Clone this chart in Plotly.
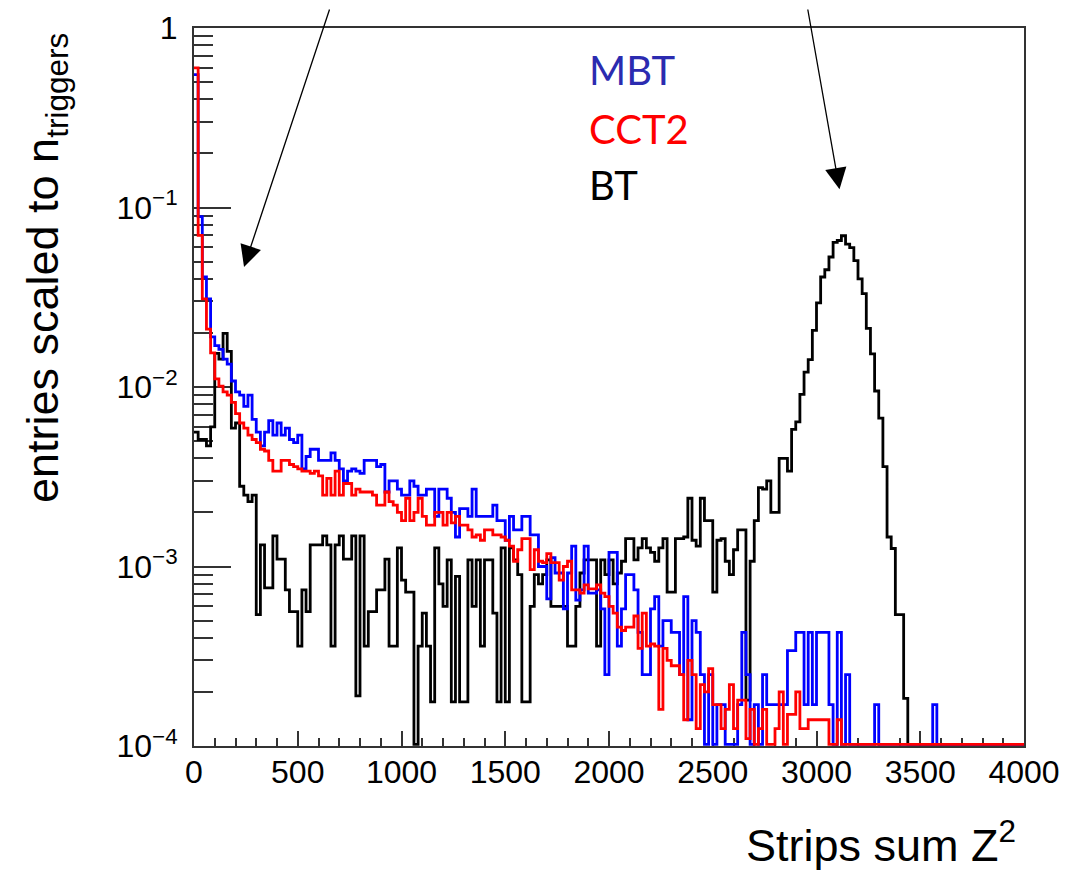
import plotly.graph_objects as go

# ---------------- data (bin width 20, range 0-4000) ----------------
bin_width = 20
x_min, x_max = 0, 4000

mbt = [
    0.55, 0.089, 0.041, 0.031, 0.019, 0.017, 0.0162, 0.0143, 0.0134, 0.0108,
    0.0094, 0.009, 0.0078, 0.009, 0.0066, 0.0056, 0.0047, 0.0056, 0.0065, 0.0054,
    0.0063, 0.0054, 0.0059, 0.0051, 0.0049, 0.0054, 0.0035, 0.0041, 0.0045, 0.0045,
    0.0039, 0.0039, 0.0039, 0.0043, 0.0039, 0.0035, 0.0030, 0.0034, 0.0035, 0.0034,
    0.0033, 0.0039, 0.0039, 0.0039, 0.0036, 0.0037, 0.0026, 0.0030, 0.0030, 0.0027,
    0.0025, 0.0025, 0.0030, 0.0028, 0.0025, 0.0025, 0.0027, 0.0027, 0.0019, 0.0027,
    0.0027, 0.0024, 0.0020, 0.00146, 0.0021, 0.0021, 0.0019, 0.0027, 0.0019, 0.0019,
    0.0019, 0.0019, 0.0022, 0.0018, 0.0018, 0.0014, 0.0019, 0.0016, 0.0016, 0.0019,
    0.0019, 0.0015, 0.0015, 0.0010, 0.0010, 0.00066, 0.00112, 0.00092, 0.00092, 0.00058,
    0.00092, 0.0013, 0.00065, 0.00074, 0.0013, 0.00071, 0.00071, 0.00074, 0.00058, 0.00025,
    0.0012, 0.0012, 0.00036, 0.00058, 0.0009, 0.0009, 0.00074, 0.00043, 0.00025, 0.00025,
    0.00058, 0.00068, 0.00036, 0.0005, 0.0005, 0.00043, 0.00043, 0.00025, 0.00068, 0.00014,
    0.0005, 0.00043, 0.00025, 0, 0.00025, 0, 0.00017, 0.00017, 0, 0,
    0, 0.00017, 0.00043, 0.00025, 0, 0.00017, 0, 0.00025, 0.00017, 0.00017,
    0.00017, 0.00017, 0.00017, 0.00034, 0.00034, 0.00043, 0.00043, 0.00017, 0.00043, 0.00017,
    0.00043, 0.00043, 0.00043, 0.00017, 0, 0.00043, 0, 0.00025, 0, 0,
    0, 0, 0, 0, 0.00017, 0, 0, 0, 0, 0,
    0, 0, 0, 0, 0, 0, 0, 0, 0.00017, 0,
    0, 0, 0, 0, 0, 0, 0, 0, 0, 0,
    0, 0, 0, 0, 0, 0, 0, 0, 0, 0,
]

cct2 = [
    0.6, 0.07, 0.031, 0.021, 0.0155, 0.0111, 0.0101, 0.0094, 0.009, 0.0082,
    0.0071, 0.0063, 0.0059, 0.0054, 0.0051, 0.0049, 0.0045, 0.0044, 0.0039, 0.0034,
    0.0034, 0.0039, 0.0039, 0.0037, 0.0036, 0.0035, 0.0034, 0.0034, 0.0033, 0.0034,
    0.0032, 0.0025, 0.0031, 0.0025, 0.0034, 0.0025, 0.0029, 0.0029, 0.0025, 0.0027,
    0.0026, 0.0026, 0.0026, 0.0025, 0.0022, 0.0022, 0.0026, 0.0023, 0.0022, 0.0020,
    0.0018, 0.0024, 0.0018, 0.0020, 0.0024, 0.0019, 0.0017, 0.0017, 0.0020, 0.0020,
    0.0017, 0.0020, 0.00175, 0.0019, 0.0017, 0.0017, 0.0016, 0.00146, 0.0015, 0.0014,
    0.0016, 0.0016, 0.0015, 0.0015, 0.00146, 0.0014, 0.0013, 0.00107, 0.00124, 0.00143,
    0.00143, 0.00096, 0.00124, 0.00107, 0.00105, 0.00118, 0.00105, 0.00105, 0.00084, 0.0010,
    0.00107, 0.00074, 0.00074, 0.00071, 0.00079, 0.00075, 0.00075, 0.00079, 0.00071, 0.00068,
    0.0006, 0.00055, 0.00046, 0.00044, 0.00046, 0.00046, 0.00053, 0.00035, 0.00055, 0.00036,
    0.00037, 0.00036, 0.00016, 0.00035, 0.0003, 0.00028, 0.00028, 0.00025, 0.00014, 0.0003,
    0.00025, 0.000125, 0.00022, 0.0002, 0.00027, 0.00017, 0.00017, 0.000125, 0.00016, 0.00022,
    0.000125, 0.00018, 0.00018, 0.00011, 0.00016, 0, 0.000125, 0.00016, 0, 0,
    0.000125, 0.0002, 0, 0.00015, 0.00015, 0.0002, 0.000125, 0.000125, 0.00014, 0.00014,
    0.00014, 0.00014, 0.00014, 0, 0, 0.00014, 0, 0, 0, 0,
    0, 0, 0, 0, 0, 0, 0, 0, 0, 0,
    0, 0, 0, 0, 0, 0, 0, 0, 0, 0,
    0, 0, 0, 0, 0, 0, 0, 0, 0, 0,
    0, 0, 0, 0, 0, 0, 0, 0, 0, 0,
]

bt = [
    0.0056, 0.0051, 0.0051, 0.0047, 0.006, 0.0154, 0.0143, 0.0199, 0.0158, 0.0059,
    0.0063, 0.0028, 0.0025, 0.0023, 0.0025, 0.00054, 0.00132, 0.00076, 0.00076, 0.00148,
    0.0011, 0.0011, 0.00074, 0.00056, 0.00056, 0.00036, 0.00074, 0.00056, 0.00132, 0.00132,
    0.00132, 0.00148, 0.00132, 0.00036, 0.00132, 0.00148, 0.0011, 0.0011, 0.00148, 0.00019,
    0.00148, 0.00036, 0.00056, 0.00056, 0.00074, 0.00074, 0.0011, 0.00036, 0.00036, 0.00127,
    0.00084, 0.00072, 0.00072, 0, 0.00036, 0.00055, 0.00036, 0.000176, 0.00127, 0.0008,
    0.0006, 0.00109, 0.000176, 0.00088, 0.000176, 0.000176, 0.00109, 0.0006, 0.00109, 0.00036,
    0.00109, 0.00109, 0.00055, 0.000176, 0.00127, 0.000176, 0.00127, 0.00109, 0.0009, 0.000176,
    0.000176, 0.0006, 0.0009, 0.0008, 0.0009, 0.00109, 0.0006, 0.0006, 0.0006, 0.0006,
    0.00036, 0.00036, 0.0006, 0.00092, 0.00109, 0.00109, 0.00109, 0.00036, 0.00109, 0.0009,
    0.00109, 0.0008, 0.00092, 0.00107, 0.00143, 0.00143, 0.00109, 0.00127, 0.00143, 0.00127,
    0.0012, 0.00107, 0.00127, 0.00143, 0.00072, 0.00072, 0.00143, 0.00143, 0.00146, 0.0024,
    0.0014, 0.0013, 0.0024, 0.0018, 0.0018, 0.00072, 0.0014, 0.00143, 0.00107, 0.0009,
    0.00124, 0.0016, 0.0016, 0.00018, 0.00107, 0.0018, 0.00275, 0.0027, 0.003, 0.002,
    0.002, 0.004, 0.004, 0.0034, 0.0058, 0.0064, 0.0091, 0.0121, 0.0142, 0.0207,
    0.0294, 0.041, 0.045, 0.053, 0.064, 0.0655, 0.0696, 0.0625, 0.0597, 0.0506,
    0.04, 0.0331, 0.0212, 0.0153, 0.0095, 0.0067, 0.0036, 0.00146, 0.00126, 0.00054,
    0.00054, 0.000184, 0, 0, 0, 0, 0, 0, 0, 0,
    0, 0, 0, 0, 0, 0, 0, 0, 0, 0,
    0, 0, 0, 0, 0, 0, 0, 0, 0, 0,
]

series_names = ["BT", "MBT", "CCT2"]
series_values = [bt, mbt, cct2]
series_colors = ["#000000", "#0000FF", "#FF0000"]

legend_labels = ["MBT", "CCT2", "BT"]
legend_colors = ["#2B2BB0", "#FF0000", "#000000"]

x_tick_vals = [0, 500, 1000, 1500, 2000, 2500, 3000, 3500, 4000]
y_tick_vals = [1e-4, 1e-3, 1e-2, 1e-1, 1]
y_tick_text = ["10<sup>\u22124</sup>", "10<sup>\u22123</sup>", "10<sup>\u22122</sup>",
               "10<sup>\u22121</sup>", "1"]
y_floor = 1e-4

# ---------------- figure ----------------
edges = [x_min + i * bin_width for i in range(len(bt) + 1)]

fig = go.Figure()
for name, vals, col in zip(series_names, series_values, series_colors):
    # empty bins are drawn on the bottom of the frame, as ROOT does
    yv = [v if v > 0 else y_floor * 1.02 for v in vals]
    fig.add_trace(go.Scatter(
        x=edges, y=yv + [yv[-1]], mode="lines", name=name,
        line=dict(color=col, width=2.8, shape="hv"),
        hoverinfo="skip",
    ))

minor_y = [m * 10 ** e for e in range(-4, 0) for m in range(2, 10)]

# the page body has an 8px margin, so the figure is made 8px smaller
fig.update_layout(
    width=1068, height=878,
    margin=dict(l=186, r=52, t=20, b=140, autoexpand=False),
    paper_bgcolor="white", plot_bgcolor="white",
    showlegend=False,
    font=dict(family="Liberation Sans, Arial, sans-serif", color="black"),
)

fig.update_xaxes(
    range=[x_min, x_max], tickvals=x_tick_vals, automargin=False,
    ticks="inside", ticklen=15, tickwidth=1.5, tickcolor="#333333",
    minor=dict(dtick=100, tick0=0, ticks="inside", ticklen=8, tickwidth=1.5,
               tickcolor="#333333", showgrid=False),
    showline=True, mirror=True, linecolor="#333333", linewidth=2,
    showgrid=False, zeroline=False, layer="below traces",
    tickfont=dict(family="Liberation Sans, Arial, sans-serif", size=32, color="black"),
    ticklabelstandoff=-3,
)
fig.update_yaxes(
    type="log", range=[-4, 0], automargin=False,
    tickvals=y_tick_vals, ticktext=y_tick_text,
    ticks="inside", ticklen=37, tickwidth=1.5, tickcolor="#333333",
    minor=dict(tickvals=minor_y, ticks="inside", ticklen=19, tickwidth=1.5,
               tickcolor="#333333", showgrid=False),
    showline=True, mirror=True, linecolor="#333333", linewidth=2,
    showgrid=False, zeroline=False, layer="below traces",
    tickfont=dict(family="Liberation Sans, Arial, sans-serif", size=32, color="black"),
    ticklabelstandoff=8,
)

# axis titles (ROOT style, aligned to the end of the axis)
fig.add_annotation(
    text="entries scaled to n<sub>triggers</sub>", textangle=-90,
    xref="paper", yref="paper", x=-0.178, y=0.666,
    xanchor="center", yanchor="middle", showarrow=False,
    font=dict(family="Liberation Sans, Arial, sans-serif", size=45, color="black"),
)
fig.add_annotation(
    text="Strips sum Z<sup>2</sup>",
    xref="paper", yref="paper", x=0.993, y=-0.134,
    xanchor="right", yanchor="middle", showarrow=False,
    font=dict(family="Liberation Sans, Arial, sans-serif", size=45, color="black"),
)

# legend as coloured text
legend_y = [0.9415, 0.860, 0.782]
for lab, col, yy in zip(legend_labels, legend_colors, legend_y):
    fig.add_annotation(
        text=lab, xref="paper", yref="paper", x=0.473, y=yy,
        xanchor="left", yanchor="middle", showarrow=False,
        font=dict(family="Lato, Open Sans, sans-serif", size=40, color=col),
    )

# arrows pointing at the two populations
fig.add_annotation(
    x=241, y=-1.331, xref="x", yref="y", text="",
    showarrow=True, arrowhead=2, arrowsize=3.3, arrowwidth=1.3, arrowcolor="black",
    ax=86, ay=-276, axref="pixel", ayref="pixel", standoff=0,
)
fig.add_annotation(
    x=3111, y=-0.899, xref="x", yref="y", text="",
    showarrow=True, arrowhead=2, arrowsize=3.3, arrowwidth=1.3, arrowcolor="black",
    ax=-32, ay=-197, axref="pixel", ayref="pixel", standoff=0,
)

fig.write_html("out.html")
